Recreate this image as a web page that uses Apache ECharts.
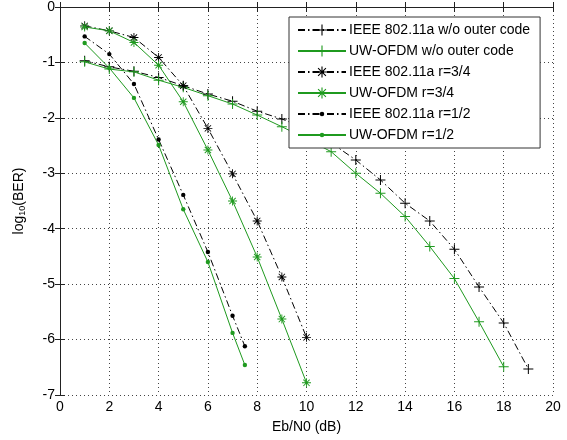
<!DOCTYPE html>
<html><head><meta charset="utf-8">
<script src="https://cdn.jsdelivr.net/npm/echarts@6/dist/echarts.min.js"></script>
<style>html,body{margin:0;padding:0;background:#fff}#c{width:567px;height:440px}</style>
</head><body><div id="c"></div>
<script>
const xTicks = [0,2,4,6,8,10,12,14,16,18,20];
const yTicks = [0,-1,-2,-3,-4,-5,-6,-7];
const seriesNames = ['IEEE 802.11a w/o outer code','UW-OFDM w/o outer code','IEEE 802.11a r=3/4','UW-OFDM r=3/4','IEEE 802.11a r=1/2','UW-OFDM r=1/2'];
const snrIeeeNoOuter = [1,2,3,4,5,6,7,8,9,10,11,12,13,14,15,16,17,18,19];
const berIeeeNoOuter = [-0.97,-1.08,-1.16,-1.27,-1.42,-1.57,-1.70,-1.88,-2.02,-2.20,-2.45,-2.76,-3.12,-3.54,-3.86,-4.37,-5.05,-5.70,-6.53];
const snrUwNoOuter = [1,2,3,4,5,6,7,8,9,10,11,12,13,14,15,16,17,18];
const berUwNoOuter = [-0.99,-1.12,-1.17,-1.32,-1.45,-1.60,-1.75,-1.95,-2.16,-2.38,-2.61,-3.00,-3.36,-3.78,-4.32,-4.90,-5.68,-6.49];
const snrR34 = [1,2,3,4,5,6,7,8,9,10];
const berIeeeR34 = [-0.34,-0.43,-0.55,-0.91,-1.42,-2.19,-3.01,-3.86,-4.87,-5.96];
const berUwR34 = [-0.36,-0.43,-0.64,-1.05,-1.71,-2.58,-3.50,-4.51,-5.63,-6.78];
const snrR12 = [1,2,3,4,5,6,7,7.5];
const berIeeeR12 = [-0.53,-0.85,-1.39,-2.39,-3.39,-4.42,-5.57,-6.12];
const berUwR12 = [-0.65,-1.10,-1.64,-2.49,-3.65,-4.60,-5.88,-6.46];

const GREEN = '#1f9a1f', BLACK = '#000';
const PLUS = 'path://M4.5,0H5.5V4.5H10V5.5H5.5V10H4.5V5.5H0V4.5H4.5Z';
const STAR = 'path://M4.5,0H5.5V4.5H10V5.5H5.5V10H4.5V5.5H0V4.5H4.5Z M1.85,1.15L8.85,8.15L8.15,8.85L1.15,1.85Z M8.15,1.15L8.85,1.85L1.85,8.85L1.15,8.15Z';
const DOT = 'path://M0,0M10,10M7,5A2,2,0,1,1,3,5A2,2,0,1,1,7,5Z';
const DASHDOT = [7,3,1.5,3];
const FONT = 'Liberation Sans, Arial, sans-serif';

function zip(xs, ys){ return xs.map((x,i)=>[x, ys[i]]); }
function mk(name, xs, ys, color, dash, symbol, size){
  return {name, type:'line', xAxisIndex:0, yAxisIndex:0, data: zip(xs,ys),
    symbol, symbolSize:size, showSymbol:true, animation:false,
    lineStyle:{color, width:1, type: dash},
    itemStyle:{color, borderWidth:0},
    emphasis:{disabled:true}};
}
const series = [
  mk(seriesNames[0], snrIeeeNoOuter, berIeeeNoOuter, BLACK, DASHDOT, PLUS, 10),
  mk(seriesNames[1], snrUwNoOuter, berUwNoOuter, GREEN, 'solid', PLUS, 10),
  mk(seriesNames[2], snrR34, berIeeeR34, BLACK, DASHDOT, STAR, 9),
  mk(seriesNames[3], snrR34, berUwR34, GREEN, 'solid', STAR, 9),
  mk(seriesNames[4], snrR12, berIeeeR12, BLACK, DASHDOT, DOT, 11),
  mk(seriesNames[5], snrR12, berUwR12, GREEN, 'solid', DOT, 11)
];

const axisLine = {show:true, lineStyle:{color:'#222', width:1}};
const tick = {show:true, inside:true, length:5, lineStyle:{color:'#222'}};
const split = {show:true, lineStyle:{color:'#444', type:[1,3], width:1}};
const chart = echarts.init(document.getElementById('c'), null, {renderer:'canvas'});
chart.setOption({
  backgroundColor:'#fff',
  animation:false,
  grid:{left:60, right:14, top:7, bottom:45, containLabel:false},
  legend:{
    data: seriesNames, orient:'vertical', left:289, top:17,
    padding:[6,10,6,8], itemGap:7, itemWidth:48, itemHeight:14,
    borderColor:'#333', borderWidth:1, backgroundColor:'#fff',
    textStyle:{fontFamily:FONT, fontSize:14, color:'#000', padding:[0,0,0,-2]},
    selectedMode:false
  },
  xAxis:[
    {type:'value', min:xTicks[0], max:xTicks[xTicks.length-1], interval:2, position:'bottom',
     axisLine, axisTick:tick, splitLine:split,
     axisLabel:{margin:5, fontFamily:FONT, fontSize:14, color:'#000'},
     name:'Eb/N0 (dB)', nameLocation:'middle', nameGap:25,
     nameTextStyle:{fontFamily:FONT, fontSize:14, color:'#000'}},
    {type:'value', min:xTicks[0], max:xTicks[xTicks.length-1], interval:2, position:'top',
     axisLine, axisTick:tick, splitLine:{show:false}, axisLabel:{show:false}}
  ],
  yAxis:[
    {type:'value', min:yTicks[yTicks.length-1], max:yTicks[0], interval:1, position:'left',
     axisLine, axisTick:tick, splitLine:split,
     axisLabel:{margin:5, fontFamily:FONT, fontSize:14, color:'#000'},
     name:'{a|log}{b|10}{a|(BER)}', nameLocation:'middle', nameGap:33, nameRotate:90,
     nameTextStyle:{fontFamily:FONT, fontSize:14, color:'#000',
       rich:{a:{fontFamily:FONT, fontSize:14, color:'#000'}, b:{fontFamily:FONT, fontSize:9, color:'#000', padding:[7,0,0,0]}}}},
    {type:'value', min:yTicks[yTicks.length-1], max:yTicks[0], interval:1, position:'right',
     axisLine, axisTick:tick, splitLine:{show:false}, axisLabel:{show:false}}
  ],
  series
});
</script></body></html>
